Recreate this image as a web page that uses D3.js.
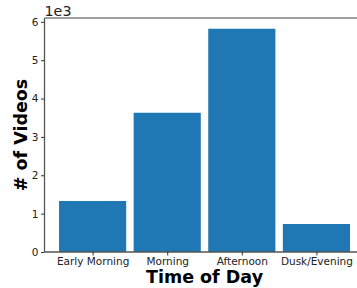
<html>
<head>
<script src="https://d3js.org/d3.v7.min.js"></script>
<style>
  body { margin: 0; background: #fff; }
  text { font-family: "DejaVu Sans", sans-serif; }
</style>
</head>
<body>
<script>
// chart data
var categories = ["Early Morning", "Morning", "Afternoon", "Dusk/Evening"];
var videoCounts = [1330, 3630, 5820, 730];
var yTicks = [0, 1, 2, 3, 4, 5, 6];

var W = 357, H = 288;
var svg = d3.select("body").append("svg").attr("width", W).attr("height", H);

var plotLeft = 44.5, plotTop = 18, plotBottom = 252;

// x: matplotlib style margins (xlim -0.645 .. 3.645)
var step = 74.6;
var x = d3.scaleLinear().domain([-0.645, 3.645]).range([plotLeft, plotLeft + 4.29 * step]);
var barW = 0.9;

var y = d3.scaleLinear().domain([0, 6.1]).range([plotBottom, plotTop]);

// bars
svg.append("g").selectAll("rect")
  .data(videoCounts)
  .enter().append("rect")
    .attr("x", function(d, i) { return x(i - barW / 2); })
    .attr("width", function() { return x(barW) - x(0); })
    .attr("y", function(d) { return y(d / 1000); })
    .attr("height", function(d) { return plotBottom - y(d / 1000); })
    .attr("fill", "#1f77b4");

// spines
svg.append("line").attr("x1", plotLeft).attr("x2", W).attr("y1", plotTop).attr("y2", plotTop)
  .attr("stroke", "#808080").attr("stroke-width", 1.3);
svg.append("line").attr("x1", plotLeft).attr("x2", W).attr("y1", plotBottom).attr("y2", plotBottom)
  .attr("stroke", "#555").attr("stroke-width", 1.3);
svg.append("line").attr("x1", plotLeft).attr("x2", plotLeft).attr("y1", plotTop).attr("y2", plotBottom)
  .attr("stroke", "#555").attr("stroke-width", 1.3);

// y axis
var yAxis = d3.axisLeft(y).tickValues(yTicks).tickSize(3.5).tickPadding(2.5)
  .tickFormat(d3.format("d"));
var gy = svg.append("g").attr("transform", "translate(" + plotLeft + ",0)").call(yAxis);
gy.select(".domain").remove();
gy.selectAll("line").attr("stroke", "#333");
gy.selectAll("text").attr("font-size", "10.5px").attr("fill", "#222")
  .attr("font-family", "DejaVu Sans");

// x axis
var xAxis = d3.axisBottom(x).tickValues(d3.range(categories.length)).tickSize(3.5).tickPadding(2.5)
  .tickFormat(function(i) { return categories[i]; });
var gx = svg.append("g").attr("transform", "translate(0," + plotBottom + ")").call(xAxis);
gx.select(".domain").remove();
gx.selectAll("line").attr("stroke", "#333");
gx.selectAll("text").attr("font-size", "10.5px").attr("fill", "#222")
  .attr("font-family", "DejaVu Sans");

// offset label
svg.append("text").attr("x", plotLeft).attr("y", 16)
  .attr("font-size", "14.3px").attr("fill", "#222").text("1e3");

// axis titles
svg.append("text")
  .attr("x", (plotLeft + x(3.645)) / 2).attr("y", 283)
  .attr("text-anchor", "middle")
  .attr("font-size", "17.5px").attr("font-weight", "bold")
  .text("Time of Day");

svg.append("text")
  .attr("transform", "translate(27," + (plotTop + plotBottom) / 2 + ") rotate(-90)")
  .attr("text-anchor", "middle")
  .attr("font-size", "17.5px").attr("font-weight", "bold")
  .text("# of Videos");
</script>
</body>
</html>
